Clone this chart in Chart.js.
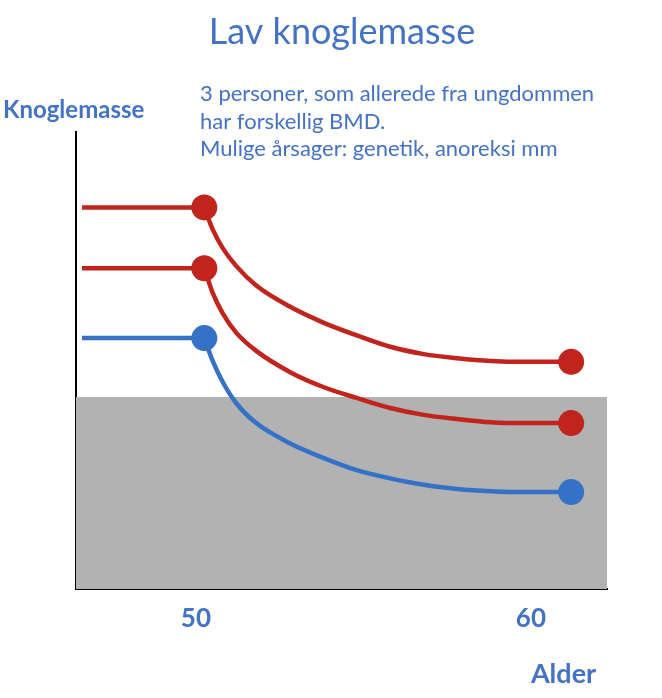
<!DOCTYPE html>
<html>
<head>
<meta charset="utf-8">
<script src="https://cdn.jsdelivr.net/npm/chart.js@4.4.0/dist/chart.umd.min.js"></script>
<style>
  html, body { margin: 0; padding: 0; background: #fff; }
  #wrap { width: 662px; height: 698px; }
</style>
</head>
<body>
<div id="wrap"><canvas id="boneChart" width="662" height="698"></canvas></div>
<script>
// ages (years) on the x axis
var flatAges = [46.6, 50.25];
var curveAges = [50.25, 50.5, 50.8, 51.2, 51.8, 52.8, 53.8, 54.8, 55.8, 56.8, 57.8, 58.8, 59.8, 61.2];
var tickAges = [50, 60];
var ageRange = [46.42, 62.27];

// bone mass, no units (0 = x axis, 100 = top of y axis)
var personA = [83.5, 78.7, 74.6, 70.7, 66.4, 61.8, 58.3, 55.5, 53.0, 51.4, 50.5, 49.9, 49.7, 49.7];
var personB = [70.2, 64.8, 60.3, 56.1, 52.1, 47.5, 44.2, 41.8, 39.6, 38.1, 37.2, 36.5, 36.3, 36.3];
var personC = [54.9, 49.9, 45.3, 40.7, 36.3, 31.9, 28.7, 26.0, 24.2, 22.8, 21.9, 21.4, 21.2, 21.2];
var lowLimit = 42.0;

var red = '#c0241c';
var blue = '#3571c6';
var textBlue = '#4472c4';
var grey = '#b2b2b2';

// flat part before 50
const flatLine = (series, color) => ({
    data: flatAges.map(a => ({ x: a, y: series[0] })),
    borderColor: color,
    borderWidth: 4.5,
    pointRadius: 0,
    order: 2
});

// falling part after 50, dot at both ends
const curveLine = (series, color) => ({
    data: curveAges.map((a, i) => ({ x: a, y: series[i] })),
    borderColor: color,
    backgroundColor: color,
    borderWidth: 4.5,
    cubicInterpolationMode: 'monotone',
    pointRadius: series.map((v, i) => (i === 0 || i === series.length - 1) ? 13 : 0),
    pointBorderWidth: 0,
    order: 1
});

// texts around the plot
const textPlugin = {
    id: 'texts',
    afterDraw(chart) {
        const ctx = chart.ctx;
        ctx.save();
        ctx.fillStyle = textBlue;
        ctx.textBaseline = 'alphabetic';

        ctx.textAlign = 'center';
        ctx.font = '36px Lato';
        ctx.fillText('Lav knoglemasse', 342, 44);

        ctx.textAlign = 'left';
        ctx.font = '22px Lato';
        ctx.fillText('3 personer, som allerede fra ungdommen', 200, 101);
        ctx.fillText('har forskellig BMD.', 200, 128.5);
        ctx.fillText('Mulige årsager: genetik, anoreksi mm', 200, 156);

        ctx.font = 'bold 24px Lato';
        ctx.fillText('Knoglemasse', 3, 118);

        ctx.textAlign = 'center';
        ctx.font = 'bold 27px Lato';
        ctx.fillText('Alder', 563.5, 683);
        ctx.restore();
    }
};

var boneChart = new Chart('boneChart', {
    type: 'line',
    data: {
        datasets: [
            curveLine(personA, red),
            curveLine(personB, red),
            curveLine(personC, blue),
            flatLine(personA, red),
            flatLine(personB, red),
            flatLine(personC, blue),
            {
                data: ageRange.map(a => ({ x: a, y: lowLimit })),
                fill: 'origin',
                backgroundColor: grey,
                borderWidth: 0,
                pointRadius: 0,
                order: 10
            }
        ]
    },
    options: {
        responsive: false,
        animation: false,
        layout: { padding: { left: 76, right: 55, top: 132, bottom: 49 } },
        plugins: {
            legend: { display: false },
            tooltip: { enabled: false }
        },
        scales: {
            x: {
                type: 'linear',
                min: ageRange[0],
                max: ageRange[1],
                afterBuildTicks: s => { s.ticks = tickAges.map(v => ({ value: v })); },
                afterFit: s => { s.height = 60; },
                ticks: {
                    color: textBlue,
                    font: { family: 'Lato', size: 26, weight: 'bold' },
                    padding: 14
                },
                grid: { display: false, drawTicks: false },
                border: { display: true, color: '#000', width: 2 }
            },
            y: {
                min: 0,
                max: 100,
                afterFit: s => { s.width = 0; },
                ticks: { display: false },
                grid: { display: false, drawTicks: false },
                border: { display: true, color: '#000', width: 2 }
            }
        }
    },
    plugins: [textPlugin]
});
</script>
</body>
</html>
